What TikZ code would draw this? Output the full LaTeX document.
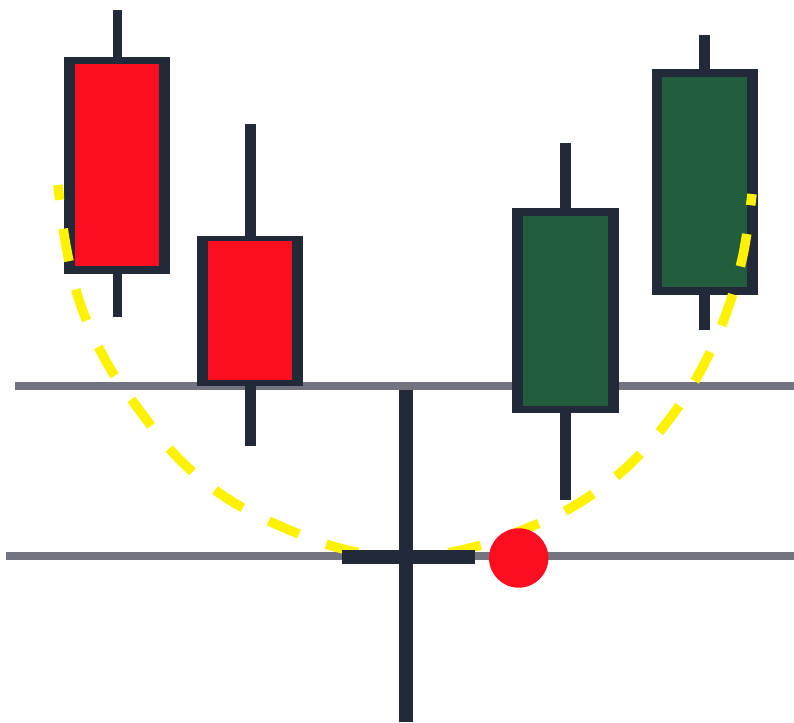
\documentclass[tikz,border=0pt]{standalone}
\begin{document}
\begin{tikzpicture}[x=1pt,y=-1pt]
\definecolor{navy}{HTML}{222939}
\definecolor{cred}{HTML}{FC0E21}
\definecolor{cgreen}{HTML}{225E3E}
\definecolor{cgray}{HTML}{72757F}
\definecolor{cyellow}{HTML}{FFF200}
\tikzset{
  grayline/.style={draw=cgray,line width=7.7pt},
  darkpart/.style={fill=navy},
  redbody/.style={fill=cred},
  greenbody/.style={fill=cgreen},
  trend/.style={draw=cyellow,line width=9.5pt,dash pattern=on 33pt off 29pt,dash phase=18pt},
}
\useasboundingbox[fill=white] (0,0) rectangle (794,722);
% horizontal levels
\coordinate (l1a) at (15,386); \coordinate (l1b) at (794,386);
\coordinate (l2a) at (6,556); \coordinate (l2b) at (794,556);
\draw[grayline] (l1a) -- (l1b);
\draw[grayline] (l2a) -- (l2b);
% candle 1
\fill[darkpart] (113,10) rectangle (122,317);
\fill[darkpart] (64,57) rectangle (170,274);
\fill[redbody] (75,64.3) rectangle (159.3,266);
% candle 2
\fill[darkpart] (245,124) rectangle (256,445.7);
\fill[darkpart] (197,236) rectangle (303,385.7);
\fill[redbody] (208,241.3) rectangle (292.3,379.7);
% candle 3
\fill[darkpart] (560,143) rectangle (571,500);
\fill[darkpart] (512.3,208.3) rectangle (618.7,413);
\fill[greenbody] (523.3,216) rectangle (608,405.7);
% candle 4
\fill[darkpart] (699,35) rectangle (710,329.7);
\fill[darkpart] (651.7,69.3) rectangle (758,295.3);
\fill[greenbody] (662.3,77.3) rectangle (747,287.3);
% yellow dashed trend curve
\draw[trend] plot[smooth,tension=0.6] coordinates {(58,185) (66,246) (81,306) (107,363) (140,411) (178,458) (225,497) (280,526) (343,549) (404,557) (466,549) (530,527) (579,503) (627,467) (668,421) (701,370) (726,314) (743,255) (752,194)};
% doji cross
\fill[darkpart] (399,390) rectangle (413,722);
\fill[darkpart] (342,550) rectangle (475,564);
% red dot
\fill[cred] (518.7,558) circle (29.7);
\end{tikzpicture}
\end{document}
